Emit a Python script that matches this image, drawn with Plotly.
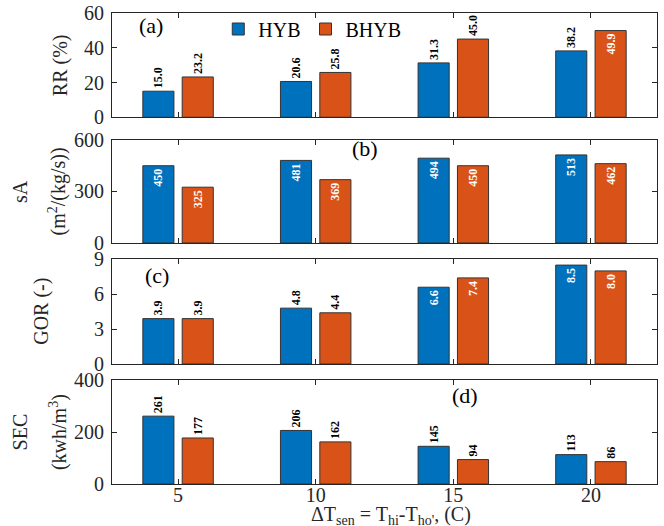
import plotly.graph_objects as go
from plotly.subplots import make_subplots

categories = [5, 10, 15, 20]
series_names = ["HYB", "BHYB"]

rr_hyb = [15.0, 20.6, 31.3, 38.2]
rr_bhyb = [23.2, 25.8, 45.0, 49.9]
sa_hyb = [450, 481, 494, 513]
sa_bhyb = [325, 369, 450, 462]
gor_hyb = [3.9, 4.8, 6.6, 8.5]
gor_bhyb = [3.9, 4.4, 7.4, 8.0]
sec_hyb = [261, 206, 145, 113]
sec_bhyb = [177, 162, 94, 86]

y_ticks_a = [0, 20, 40, 60]
y_ticks_b = [0, 300, 600]
y_ticks_c = [0, 3, 6, 9]
y_ticks_d = [0, 200, 400]

panel_labels = ["(a)", "(b)", "(c)", "(d)"]
y_titles = [["RR (%)"], ["sA", "(m<sup>2</sup>/(kg/s))"], ["GOR (-)"],
            ["SEC", "(kwh/m<sup>3</sup>)"]]
x_title = "ΔT<sub>sen</sub> = T<sub>hi</sub>-T<sub>ho'</sub>, (C)"

# ---- style ----
C_BLUE = "#0072BD"
C_ORANGE = "#D95319"
FONT = "Liberation Serif"
FRAME = "#262626"
TXT = "#262626"

panels = [
    (rr_hyb, rr_bhyb, "{:.1f}", y_ticks_a),
    (sa_hyb, sa_bhyb, "{:.0f}", y_ticks_b),
    (gor_hyb, gor_bhyb, "{:.1f}", y_ticks_c),
    (sec_hyb, sec_bhyb, "{:.0f}", y_ticks_d),
]
text_pos = [
    (["outside"] * 4, ["outside", "outside", "outside", "inside"]),
    (["inside"] * 4, ["inside"] * 4),
    (["outside", "outside", "inside", "inside"], ["outside", "outside", "inside", "inside"]),
    (["outside"] * 4, ["outside"] * 4),
]

fig = make_subplots(rows=4, cols=1, shared_xaxes=True)

W = 1.13
OFFS = [-1.28, 0.15]
for i, (h, b, fmt, yt) in enumerate(panels):
    r = i + 1
    for j, (vals, col) in enumerate([(h, C_BLUE), (b, C_ORANGE)]):
        fig.add_trace(go.Bar(
            x=categories, y=vals, name=series_names[j],
            marker=dict(color=col, line=dict(color="#333333", width=1)),
            width=W, offset=OFFS[j],
            text=[fmt.format(v) for v in vals],
            textposition=text_pos[i][j],
            textangle=-90,
            insidetextanchor="end",
            constraintext="none",
            outsidetextfont=dict(family=FONT, size=12, color="black", weight="bold"),
            insidetextfont=dict(family=FONT, size=12, color="white", weight="bold"),
            cliponaxis=False,
            showlegend=(i == 0),
        ), row=r, col=1)
    fig.update_yaxes(
        range=[yt[0], yt[-1]], tickvals=yt, ticks="inside", ticklen=5,
        tickcolor=FRAME, showline=True, linecolor=FRAME, linewidth=1,
        mirror="ticks", showgrid=False, zeroline=False, automargin=False,
        ticklabelstandoff=3,
        tickfont=dict(family=FONT, size=20, color=TXT),
        row=r, col=1)
    fig.update_xaxes(
        range=[2.6, 22.4], tickvals=categories, ticks="inside", ticklen=5,
        tickcolor=FRAME, showline=True, linecolor=FRAME, linewidth=1,
        mirror="ticks", showgrid=False, zeroline=False, automargin=False,
        ticklabelstandoff=-7,
        tickfont=dict(family=FONT, size=20, color=TXT),
        row=r, col=1)

fig.update_xaxes(showticklabels=True, row=4, col=1)

doms = [[0.7786, 1.0], [0.5117, 0.7304], [0.2548, 0.4771], [0.0, 0.2208]]
for i, d in enumerate(doms):
    fig.layout["yaxis" + ("" if i == 0 else str(i + 1))].domain = d

# y-axis titles (paper x positions)
ytitle_x = [[-0.0954], [-0.168, -0.1009], [-0.130], [-0.168, -0.099]]
for i, (lines, xs) in enumerate(zip(y_titles, ytitle_x)):
    yr = "y" if i == 0 else "y" + str(i + 1)
    for line, lx in zip(lines, xs):
        fig.add_annotation(text=line, textangle=-90, xref="paper", yref=yr + " domain",
                           x=lx, y=0.5, xanchor="center", yanchor="middle",
                           showarrow=False, font=dict(family=FONT, size=20, color=TXT))

# x-axis title
fig.add_annotation(text=x_title, xref="paper", yref="paper", x=0.512, y=-0.036,
                   xanchor="center", yanchor="top", showarrow=False,
                   font=dict(family=FONT, size=20, color=TXT))

# panel labels
label_pos = [(0.0716, 0.9724), (0.464, 0.712), (0.0826, 0.442), (0.647, 0.188)]
for (lx, ly), txt in zip(label_pos, panel_labels):
    fig.add_annotation(text=txt, xref="paper", yref="paper", x=lx, y=ly,
                       xanchor="center", yanchor="middle",
                       showarrow=False, font=dict(family=FONT, size=22, color="black"))

fig.update_layout(
    width=664, height=526,
    margin=dict(l=112, r=7, t=13, b=42),
    paper_bgcolor="white", plot_bgcolor="white",
    barmode="overlay",
    legend=dict(orientation="h", x=0.195, y=0.966, xanchor="left", yanchor="middle",
                font=dict(family=FONT, size=20, color="black"),
                bgcolor="rgba(255,255,255,0)", itemwidth=30, tracegroupgap=0),
    font=dict(family=FONT),
)

fig.write_html(
    "out.html",
    config={"displayModeBar": False},
    post_script="document.body.style.margin='0';document.body.style.overflow='hidden';",
)
